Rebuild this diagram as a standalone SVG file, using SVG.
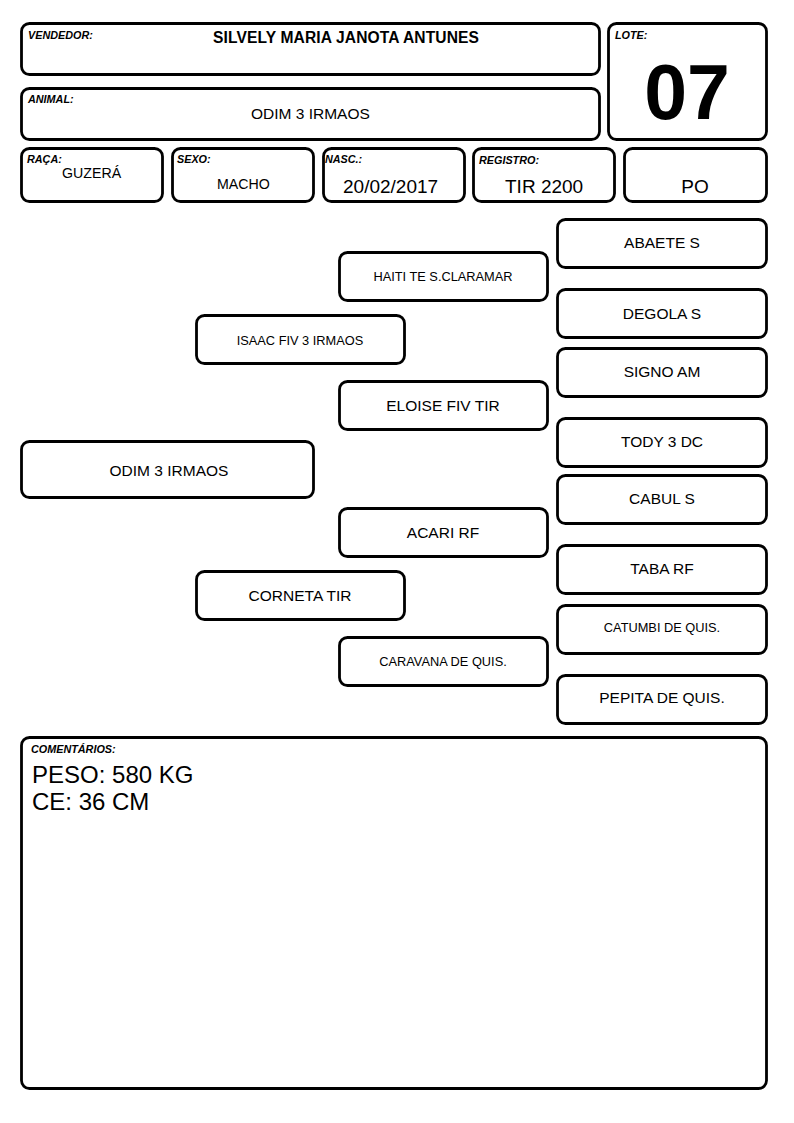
<svg xmlns="http://www.w3.org/2000/svg" width="794" height="1123" viewBox="0 0 794 1123">
<style>
.box{fill:#fff;stroke:#000;stroke-width:2.8}
.lbl{font-family:"Liberation Sans",Arial,sans-serif;font-size:10.8px;font-weight:bold;font-style:italic;fill:#000}
.t{font-family:"Liberation Sans",Arial,sans-serif;fill:#000}
.c{text-anchor:middle}
.m{font-size:15.5px}
.s{font-size:12.8px}
</style>
<rect width="794" height="1123" fill="#fff"/>
<g id="vendedor">
<rect class="box" x="21.5" y="23.5" width="578" height="51" rx="8"/>
<text class="lbl" x="28" y="39">VENDEDOR:</text>
<text class="t" x="213" y="43" font-size="15.6" font-weight="bold" textLength="266" lengthAdjust="spacing">SILVELY MARIA JANOTA ANTUNES</text>
</g>
<g id="animal">
<rect class="box" x="21.5" y="88.5" width="578" height="51" rx="8"/>
<text class="lbl" x="28" y="103">ANIMAL:</text>
<text class="t m" x="251" y="119">ODIM 3 IRMAOS</text>
</g>
<g id="lote">
<rect class="box" x="608.5" y="23.5" width="158" height="116" rx="8"/>
<text class="lbl" x="615" y="39">LOTE:</text>
<text class="t c" x="687" y="119" font-size="77" font-weight="bold">07</text>
</g>
<g id="raca">
<rect class="box" x="21.5" y="148.5" width="141" height="53" rx="8"/>
<text class="lbl" x="27" y="163">RAÇA:</text>
<text class="t" x="62" y="178" font-size="14.2">GUZERÁ</text>
</g>
<g id="sexo">
<rect class="box" x="172.5" y="148.5" width="141" height="53" rx="8"/>
<text class="lbl" x="177" y="163">SEXO:</text>
<text class="t" x="217" y="189" font-size="14.2">MACHO</text>
</g>
<g id="nasc">
<rect class="box" x="323.5" y="148.5" width="141" height="53" rx="8"/>
<text class="lbl" x="325" y="163">NASC.:</text>
<text class="t" x="343" y="193" font-size="19">20/02/2017</text>
</g>
<g id="registro">
<rect class="box" x="473.5" y="148.5" width="141" height="53" rx="8"/>
<text class="lbl" x="479" y="164">REGISTRO:</text>
<text class="t" x="505" y="193" font-size="19">TIR 2200</text>
</g>
<g id="categoria">
<rect class="box" x="624.5" y="148.5" width="142" height="53" rx="8"/>
<text class="t c" x="695" y="193" font-size="19">PO</text>
</g>
<g id="animal-pedigree">
<rect class="box" x="21.5" y="441.5" width="292" height="56" rx="8"/>
<text class="t c m" x="169" y="476">ODIM 3 IRMAOS</text>
</g>
<g id="pai">
<rect class="box" x="196.5" y="315.5" width="208" height="48" rx="8"/>
<text class="t c s" x="300" y="345">ISAAC FIV 3 IRMAOS</text>
</g>
<g id="mae">
<rect class="box" x="196.5" y="571.5" width="208" height="48" rx="8"/>
<text class="t c m" x="300" y="601">CORNETA TIR</text>
</g>
<g id="avo-pp">
<rect class="box" x="339.5" y="252.5" width="208" height="48" rx="8"/>
<text class="t c s" x="443" y="281">HAITI TE S.CLARAMAR</text>
</g>
<g id="avo-pm">
<rect class="box" x="339.5" y="381.5" width="208" height="48" rx="8"/>
<text class="t c m" x="443" y="411">ELOISE FIV TIR</text>
</g>
<g id="avo-mp">
<rect class="box" x="339.5" y="508.5" width="208" height="48" rx="8"/>
<text class="t c m" x="443" y="538">ACARI RF</text>
</g>
<g id="avo-mm">
<rect class="box" x="339.5" y="637.5" width="208" height="48" rx="8"/>
<text class="t c s" x="443" y="666">CARAVANA DE QUIS.</text>
</g>
<g id="bisavo-1">
<rect class="box" x="557.5" y="219.5" width="209" height="48" rx="8"/>
<text class="t c m" x="662" y="248">ABAETE S</text>
</g>
<g id="bisavo-2">
<rect class="box" x="557.5" y="289.5" width="209" height="48" rx="8"/>
<text class="t c m" x="662" y="319">DEGOLA S</text>
</g>
<g id="bisavo-3">
<rect class="box" x="557.5" y="348.5" width="209" height="48" rx="8"/>
<text class="t c m" x="662" y="377">SIGNO AM</text>
</g>
<g id="bisavo-4">
<rect class="box" x="557.5" y="418.5" width="209" height="48" rx="8"/>
<text class="t c m" x="662" y="447">TODY 3 DC</text>
</g>
<g id="bisavo-5">
<rect class="box" x="557.5" y="475.5" width="209" height="48" rx="8"/>
<text class="t c m" x="662" y="504">CABUL S</text>
</g>
<g id="bisavo-6">
<rect class="box" x="557.5" y="545.5" width="209" height="48" rx="8"/>
<text class="t c m" x="662" y="574">TABA RF</text>
</g>
<g id="bisavo-7">
<rect class="box" x="557.5" y="605.5" width="209" height="48" rx="8"/>
<text class="t c s" x="662" y="632">CATUMBI DE QUIS.</text>
</g>
<g id="bisavo-8">
<rect class="box" x="557.5" y="675.5" width="209" height="48" rx="8"/>
<text class="t c m" x="662" y="703">PEPITA DE QUIS.</text>
</g>
<g id="connectors"></g>
<g id="comentarios">
<rect class="box" x="21.5" y="737.5" width="745" height="351" rx="8"/>
<text class="lbl" x="31" y="753">COMENTÁRIOS:</text>
<text class="t" x="32" y="783" font-size="24">PESO: 580 KG</text>
<text class="t" x="32" y="810" font-size="24">CE: 36 CM</text>
</g>
</svg>
